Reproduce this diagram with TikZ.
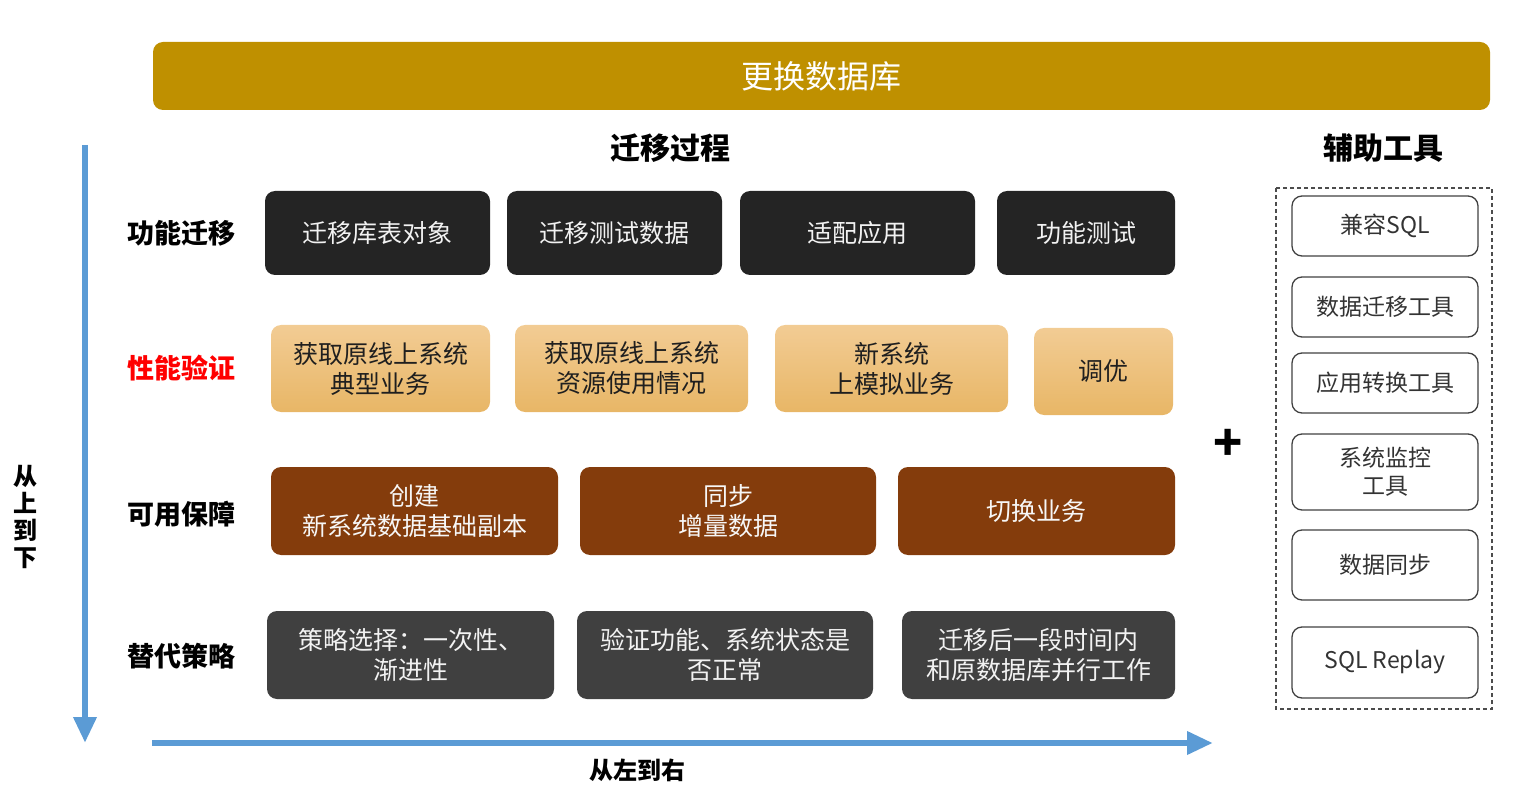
\documentclass[tikz,border=0pt]{standalone}
\usepackage{fontspec}
\setmainfont{Noto Sans CJK SC}
\usetikzlibrary{arrows.meta,positioning}
\definecolor{banner}{HTML}{BF9000}
\definecolor{flowblue}{HTML}{5B9BD5}
\definecolor{brownfill}{HTML}{843C0C}
\definecolor{goldtop}{HTML}{F2CC94}
\definecolor{goldbot}{HTML}{E8B666}
\tikzset{
  box/.style={rounded corners=10pt,inner sep=0pt,align=center,font=\fontsize{25}{30}\selectfont},
  darkbox/.style={box,fill=black!86,text=black!5,minimum height=84},
  goldbox/.style={box,top color=goldtop,bottom color=goldbot,text=black!88,minimum height=87},
  brownbox/.style={box,fill=brownfill,text=black!3,minimum height=88},
  graybox/.style={box,fill=black!75,text=black!5,minimum height=88},
  toolbox/.style={box,draw=black!75,line width=1.3pt,minimum width=186,text=black!80,
    font=\fontsize{23}{28}\selectfont},
  rowlabel/.style={font=\fontsize{27}{30}\selectfont\bfseries},
  flow/.style={flowblue,line width=6.5pt,-{Triangle[length=26pt,width=22pt]}}
}
\begin{document}
\begin{tikzpicture}[x=1pt,y=-1pt]
\useasboundingbox (0,0) rectangle (1518,794);
% banner and headings
\node[box,fill=banner,text=white,minimum width=1337,minimum height=68,
  font=\fontsize{32}{36}\selectfont] (top) at (821.5,76) {更换数据库};
\node[rowlabel,font=\fontsize{30}{32}\selectfont\bfseries] (process) at (670,148) {迁移过程};
\node[rowlabel,font=\fontsize{30}{32}\selectfont\bfseries] (tools) at (1383,148) {辅助工具};
% row labels
\node[rowlabel] (l1) at (181,233) {功能迁移};
\node[rowlabel,text=red] (l2) at (181,368) {性能验证};
\node[rowlabel] (l3) at (181,514) {可用保障};
\node[rowlabel] (l4) at (181,656) {替代策略};
% row 1
\node[darkbox,minimum width=225] (f1) at (377.5,233) {迁移库表对象};
\node[darkbox,minimum width=215] (f2) at (614.5,233) {迁移测试数据};
\node[darkbox,minimum width=235] (f3) at (857.5,233) {适配应用};
\node[darkbox,minimum width=178] (f4) at (1086,233) {功能测试};
% row 2
\node[goldbox,minimum width=219] (p1) at (380.5,368.5) {获取原线上系统\\典型业务};
\node[goldbox,minimum width=233] (p2) at (631.5,368.5) {获取原线上系统\\资源使用情况};
\node[goldbox,minimum width=233] (p3) at (891.5,368.5) {新系统\\上模拟业务};
\node[goldbox,minimum width=139] (p4) at (1103.5,371.5) {调优};
% row 3
\node[brownbox,minimum width=287] (a1) at (414.5,511) {创建\\新系统数据基础副本};
\node[brownbox,minimum width=296] (a2) at (728,511) {同步\\增量数据};
\node[brownbox,minimum width=277] (a3) at (1036.5,511) {切换业务};
% row 4
\node[graybox,minimum width=287] (s1) at (410.5,655) {策略选择：一次性、\\渐进性};
\node[graybox,minimum width=296] (s2) at (725,655) {验证功能、系统状态是\\否正常};
\node[graybox,minimum width=273] (s3) at (1038.5,655) {迁移后一段时间内\\和原数据库并行工作};
% tools
\draw[black!70,line width=1.3pt,dash pattern=on 4pt off 3pt] (1276,188) rectangle (1492,709);
\node[toolbox,minimum height=60] (t1) at (1385,226) {兼容SQL};
\node[toolbox,minimum height=60] (t2) at (1385,307) {数据迁移工具};
\node[toolbox,minimum height=60] (t3) at (1385,383) {应用转换工具};
\node[toolbox,minimum height=76] (t4) at (1385,472) {系统监控\\工具};
\node[toolbox,minimum height=70] (t5) at (1385,565) {数据同步};
\node[toolbox,minimum height=71] (t6) at (1385,662.5) {SQL Replay};
\node[font=\fontsize{48}{48}\selectfont\bfseries] (plus) at (1228,445) {+};
% flow arrows
\coordinate (vtop) at (85,145);
\coordinate (vend) at (85,743);
\coordinate (hstart) at (152,743);
\coordinate (hend) at (1213,743);
\draw[flow] (vtop) -- (vend);
\draw[flow] (hstart) -- (hend);
\node[rowlabel,font=\fontsize{24}{27}\selectfont\bfseries,align=center] (down) at (25,517) {从\\上\\到\\下};
\node[rowlabel,font=\fontsize{24}{27}\selectfont\bfseries] (right) at (637,770) {从左到右};
\end{tikzpicture}
\end{document}
